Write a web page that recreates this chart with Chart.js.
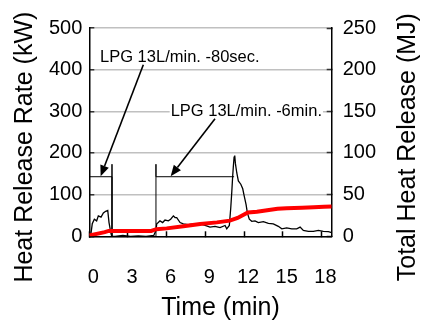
<!DOCTYPE html>
<html>
<head>
<meta charset="utf-8">
<script src="https://cdn.jsdelivr.net/npm/chart.js@4.4.0/dist/chart.umd.min.js"></script>
<style>
  body { margin: 0; background: #fff; }
  canvas { display: block; }
</style>
</head>
<body>
<canvas id="hrrChart" width="423" height="323"></canvas>
<script>
// heat release rate (kW) against time (min)
const hrrTime = [0, 0.13, 0.23, 0.39, 0.57, 0.70, 0.91, 1.09, 1.27, 1.43, 1.53, 1.68, 1.74,
  2.0, 2.6, 3.2, 3.8, 4.4, 5.0,
  5.17, 5.23, 5.35, 5.48, 5.69, 5.87, 6.13, 6.31, 6.52, 6.65, 6.78, 7.04, 7.29, 7.68, 8.07,
  8.59, 8.98, 9.36, 9.75, 10.14, 10.53, 10.66, 10.86, 10.97, 11.05, 11.12, 11.17, 11.23,
  11.28, 11.33, 11.44, 11.56, 11.75, 11.9, 12.0, 12.16, 12.26, 12.41, 12.6, 12.85, 13.11,
  13.5, 13.89, 14.27, 14.66, 14.93, 15.31, 15.7, 16.09, 16.35, 16.6, 16.99, 17.38, 17.77,
  18.15, 18.54, 18.8];
const hrrValue = [2, 7, 30, 41, 37, 49, 46, 56, 60, 62, 33, 7, 0,
  0, 2, 0, 1, 0, 2,
  14, 30, 33, 37, 33, 39, 37, 41, 49, 45, 45, 33, 30, 28, 30,
  30, 26, 22, 24, 21, 26, 18, 26, 68, 106, 144, 167, 190,
  194, 175, 152, 133, 125, 114, 99, 76, 56, 41, 36, 37, 33,
  35, 31, 30, 24, 18, 20, 18, 18, 22, 14, 12, 12, 14,
  12, 11, 9];

// total heat release (MJ)
const thrTime = [0, 1.2, 1.5, 4.8, 5.2, 6.0, 7.3, 8.6, 9.9, 10.9, 11.5, 12.3, 13.0, 13.8,
  14.6, 15.3, 16.5, 17.4, 18.2, 18.8];
const thrValue = [1, 5, 6.5, 6.5, 8.5, 9.5, 12, 14.8, 16.7, 18.8, 22, 28.5, 29.5, 31.2,
  33, 33.8, 34.2, 34.8, 35.5, 35.8];

// gas burner periods drawn as brackets
const burner1Time = [0, 1.76, 1.76, 1.76];
const burner1Value = [143, 143, 173, 0];
const burner2Time = [5.17, 5.17, 5.17, 11.23];
const burner2Value = [0, 173, 143, 143];

const noteText = ['LPG 13L/min. -80sec.', 'LPG 13L/min. -6min.'];
const noteAt = [[0.83, 430], [6.31, 299]];
const arrowFrom = [[4.19, 412], [9.75, 282]];
const arrowTo = [[0.88, 144], [6.31, 144]];

const xTicks = [0, 3, 6, 9, 12, 15, 18];
const yTicks = [0, 100, 200, 300, 400, 500];
const y1Ticks = [0, 50, 100, 150, 200, 250];

const FONT = '"Liberation Sans", Arial, sans-serif';

function toPoints(xs, ys) {
  return xs.map((v, i) => ({x: v, y: ys[i]}));
}
function setTicks(list) {
  return function(scale) { scale.ticks = list.map(v => ({value: v})); };
}

const notes = {
  id: 'notes',
  afterDatasetsDraw(chart) {
    const {ctx, scales: {x, y}} = chart;
    ctx.save();
    ctx.font = '16.5px ' + FONT;
    ctx.textBaseline = 'middle';
    noteText.forEach((t, i) => {
      const px = x.getPixelForValue(noteAt[i][0]);
      const py = y.getPixelForValue(noteAt[i][1]);
      const w = ctx.measureText(t).width;
      ctx.fillStyle = '#fff';
      ctx.fillRect(px - 1, py - 7, w + 2, 14);
      ctx.fillStyle = '#000';
      ctx.fillText(t, px, py);
    });
    ctx.strokeStyle = '#000';
    ctx.lineWidth = 1.6;
    arrowFrom.forEach((p, i) => {
      const x0 = x.getPixelForValue(p[0]), y0 = y.getPixelForValue(p[1]);
      const x1 = x.getPixelForValue(arrowTo[i][0]), y1 = y.getPixelForValue(arrowTo[i][1]);
      const a = Math.atan2(y1 - y0, x1 - x0);
      const bx = x1 - 11 * Math.cos(a), by = y1 - 11 * Math.sin(a);
      ctx.beginPath();
      ctx.moveTo(x0, y0);
      ctx.lineTo(bx, by);
      ctx.stroke();
      ctx.beginPath();
      ctx.moveTo(x1, y1);
      ctx.lineTo(bx + 4.5 * Math.sin(a), by - 4.5 * Math.cos(a));
      ctx.lineTo(bx - 4.5 * Math.sin(a), by + 4.5 * Math.cos(a));
      ctx.closePath();
      ctx.fill();
    });
    ctx.restore();
  }
};

const axisTitles = {
  id: 'axisTitles',
  afterDraw(chart) {
    const {ctx, chartArea: a} = chart;
    const midY = (a.top + a.bottom) / 2 + 15;
    ctx.save();
    ctx.fillStyle = '#000';
    ctx.font = '25px ' + FONT;
    ctx.textAlign = 'center';
    ctx.textBaseline = 'alphabetic';
    ctx.fillText('Time (min)', (a.left + a.right) / 2 + 10, 315);
    ctx.save();
    ctx.translate(31.5, midY);
    ctx.rotate(-Math.PI / 2);
    ctx.fillText('Heat Release Rate (kW)', 0, 0);
    ctx.restore();
    ctx.translate(415, midY);
    ctx.rotate(-Math.PI / 2);
    ctx.fillText('Total Heat Release (MJ)', 0, 0);
    ctx.restore();
  }
};

new Chart(document.getElementById('hrrChart'), {
  type: 'scatter',
  data: {
    datasets: [
      {data: toPoints(thrTime, thrValue), yAxisID: 'y1', showLine: true, borderColor: '#ff0000',
       borderWidth: 4, pointRadius: 0, order: 0},
      {data: toPoints(hrrTime, hrrValue), yAxisID: 'y', showLine: true, borderColor: '#000',
       borderWidth: 1.3, pointRadius: 0, order: 1},
      {data: toPoints(burner1Time, burner1Value), yAxisID: 'y', showLine: true, borderColor: '#000',
       borderWidth: 1, pointRadius: 0, order: 2},
      {data: toPoints(burner2Time, burner2Value), yAxisID: 'y', showLine: true, borderColor: '#000',
       borderWidth: 1, pointRadius: 0, order: 2}
    ]
  },
  options: {
    responsive: false,
    animation: false,
    layout: {padding: {top: 17.5, left: 0, right: 0, bottom: 0}},
    plugins: {legend: {display: false}, tooltip: {enabled: false}},
    scales: {
      x: {
        type: 'linear', min: 0, max: 18.8,
        afterBuildTicks: setTicks(xTicks),
        afterFit: s => { s.height = 86.7; },
        grid: {drawOnChartArea: false, tickLength: -5, tickColor: '#000', tickWidth: 1.5},
        border: {color: '#000', width: 1.5},
        ticks: {color: '#000', font: {family: FONT, size: 20}, padding: 34, labelOffset: 4, maxRotation: 0}
      },
      y: {
        position: 'left', min: 0, max: 500,
        afterBuildTicks: setTicks(yTicks),
        afterFit: s => { s.width = 89.3; },
        grid: {color: '#c0c0c0', lineWidth: 1.5, tickLength: -5, tickColor: '#333', tickWidth: 1.5},
        border: {color: '#000', width: 1.5},
        ticks: {color: '#000', font: {family: FONT, size: 20}, padding: 12}
      },
      y1: {
        position: 'right', min: 0, max: 250,
        afterBuildTicks: setTicks(y1Ticks),
        afterFit: s => { s.width = 91.3; },
        grid: {drawOnChartArea: false, tickLength: -5, tickColor: '#333', tickWidth: 1.5},
        border: {color: '#000', width: 1.5},
        ticks: {color: '#000', font: {family: FONT, size: 20}, padding: 16}
      }
    }
  },
  plugins: [notes, axisTitles]
});
</script>
</body>
</html>
